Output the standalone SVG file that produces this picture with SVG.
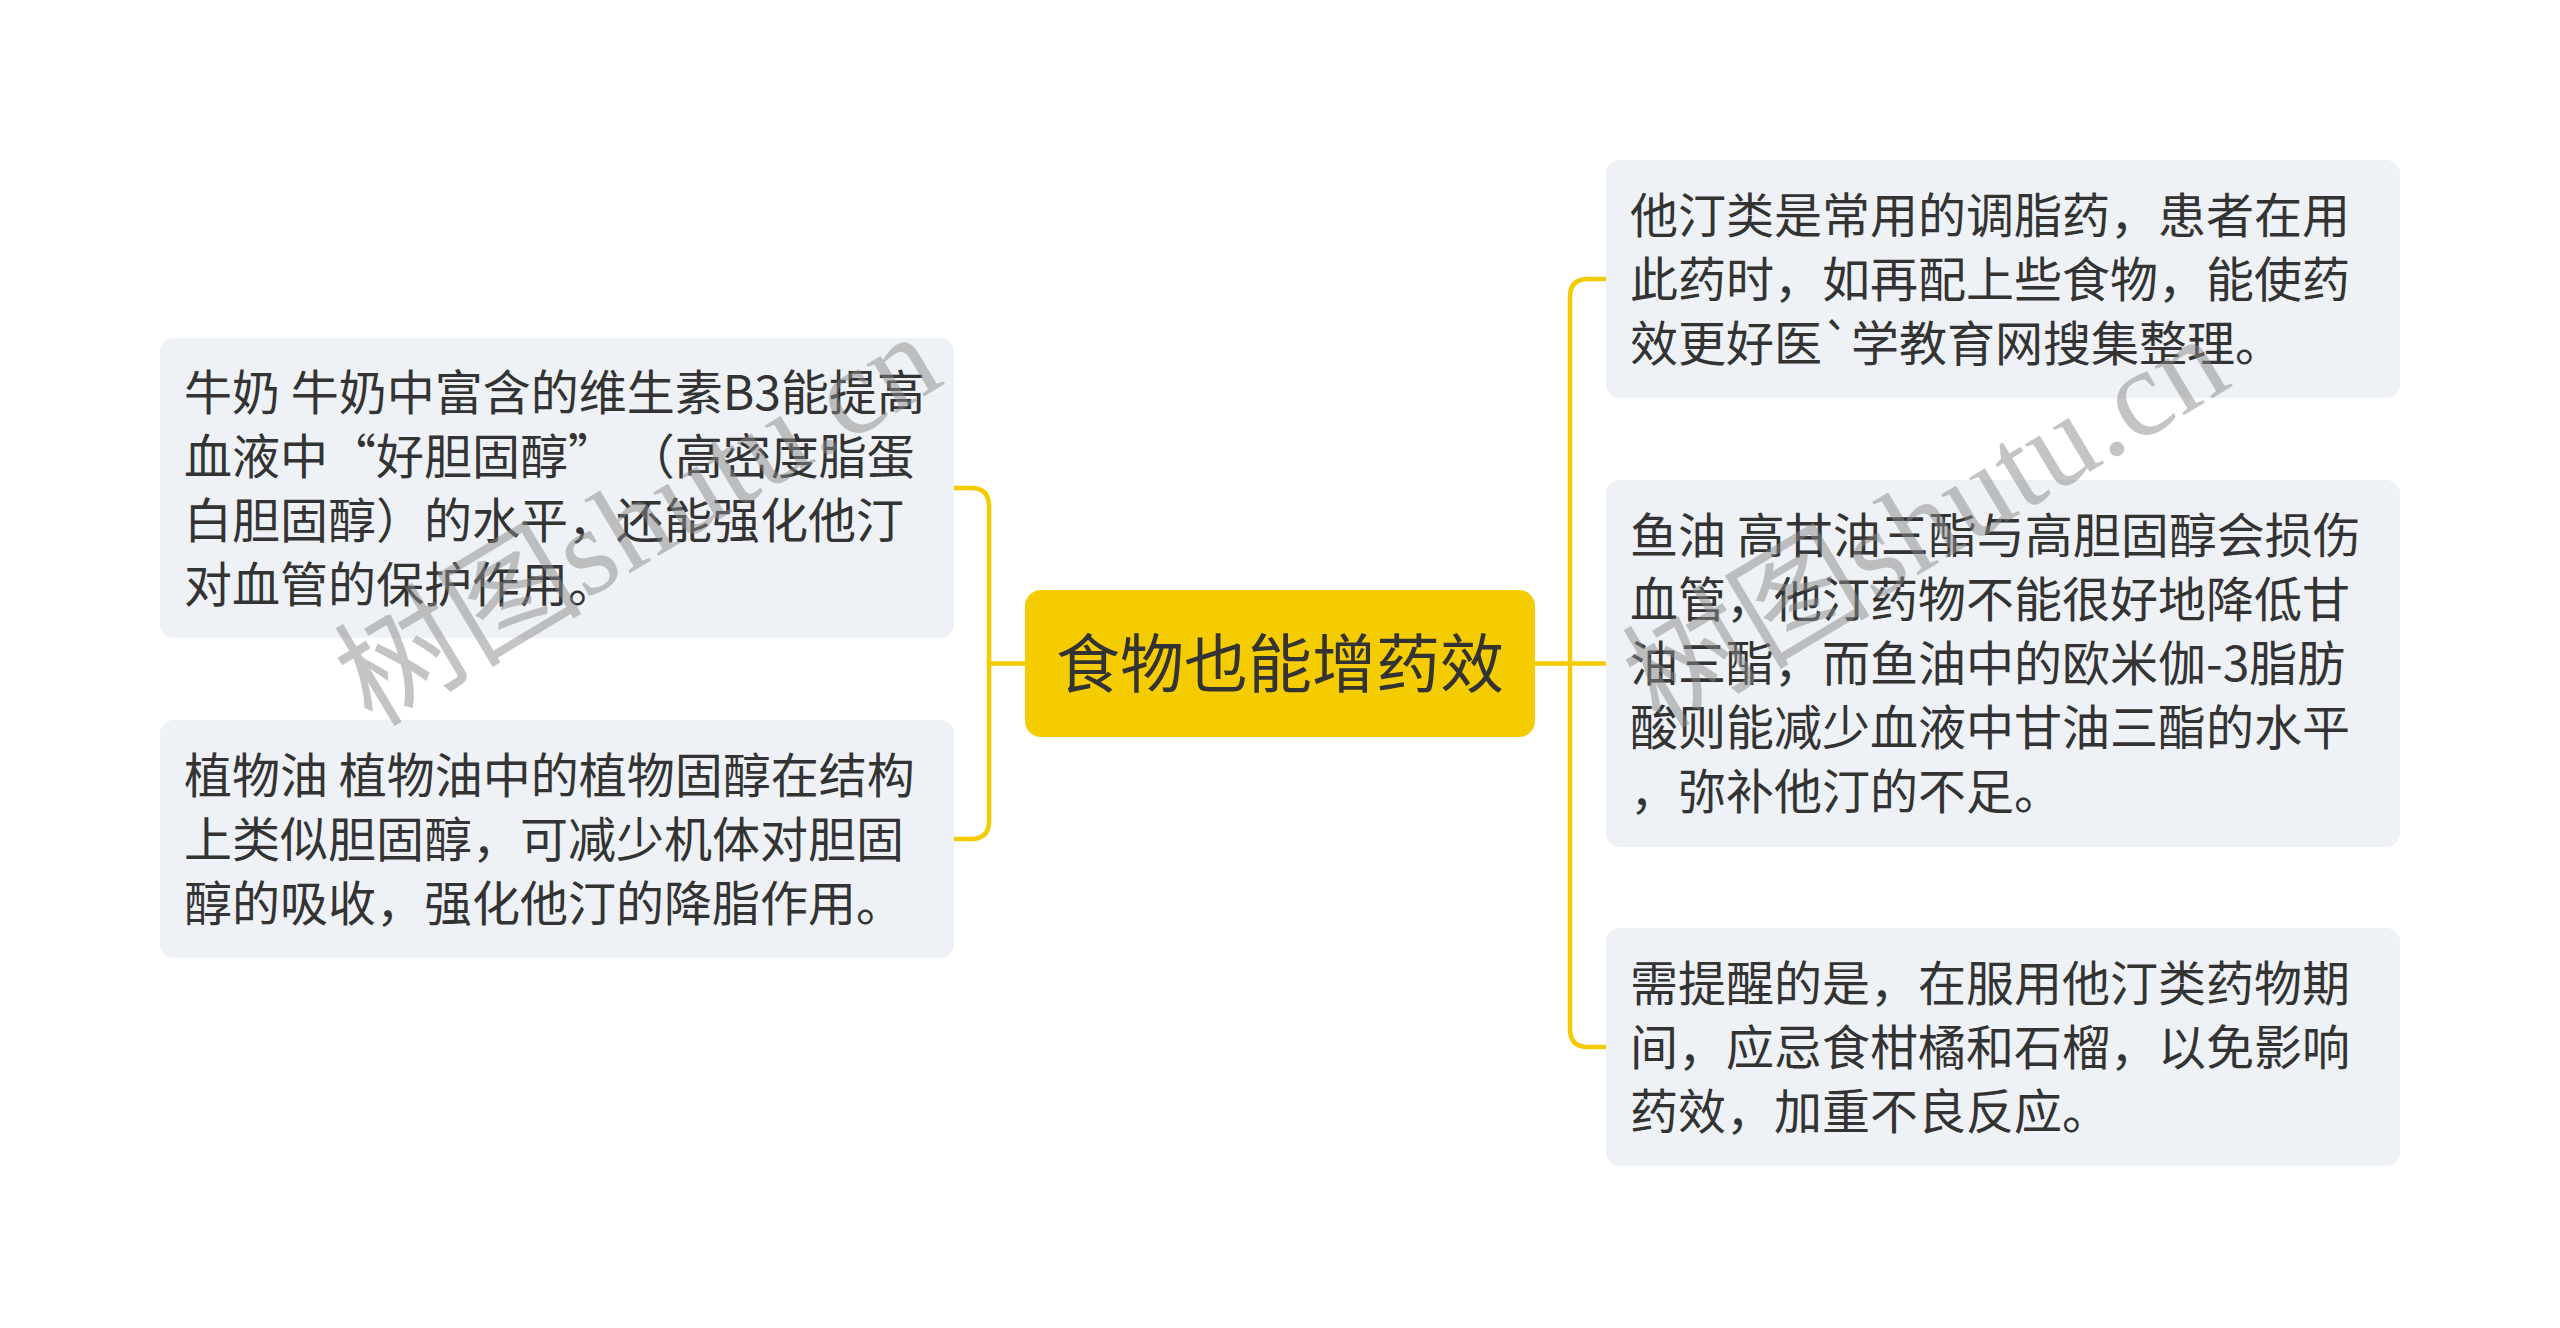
<svg xmlns="http://www.w3.org/2000/svg" width="2560" height="1328" viewBox="0 0 2560 1328">
<style>
.box{fill:#EEF1F5}
.txt{font-family:"Noto Sans CJK SC","Noto Sans",sans-serif;font-size:48px;fill:#333333}
.root{fill:#F5CC00}
.rtxt{font-family:"Noto Sans CJK SC","Noto Sans",sans-serif;font-size:64px;fill:#333333;text-anchor:middle}
.con{fill:none;stroke:#F5CA00;stroke-width:4.5;stroke-linecap:round;stroke-linejoin:round}
.wm{font-family:"Liberation Serif","Noto Sans CJK SC",serif;font-size:124px;fill:#8a8a8a;opacity:0.5}
</style>
<rect width="2560" height="1328" fill="#FFFFFF"/>
<g id="connectors">
<path class="con" d="M1025,663.5 H989"/>
<path class="con" d="M954,488 H971 Q989,488 989,506 V821 Q989,839 971,839 H954"/>
<path class="con" d="M1535,663.5 H1606"/>
<path class="con" d="M1606,279 H1588 Q1570,279 1570,297 V1029 Q1570,1047 1588,1047 H1606"/>
</g>
<g id="root">
<rect class="root" x="1025" y="590" width="510" height="147" rx="16"/>
<text class="rtxt" x="1280" y="687">食物也能增药效</text>
</g>
<g id="node-milk">
<rect class="box" x="160" y="338" width="794" height="300" rx="14"/>
<text class="txt"><tspan x="184" y="410">牛奶 牛奶中富含的维生素B3能提高</tspan><tspan x="184" y="474">血液中“好胆固醇” （高密度脂蛋</tspan><tspan x="184" y="538">白胆固醇）的水平，还能强化他汀</tspan><tspan x="184" y="602">对血管的保护作用。</tspan></text>
</g>
<g id="node-oil">
<rect class="box" x="160" y="720" width="794" height="238" rx="14"/>
<text class="txt"><tspan x="184" y="793">植物油 植物油中的植物固醇在结构</tspan><tspan x="184" y="857">上类似胆固醇，可减少机体对胆固</tspan><tspan x="184" y="921">醇的吸收，强化他汀的降脂作用。</tspan></text>
</g>
<g id="node-statin">
<rect class="box" x="1606" y="160" width="794" height="238" rx="14"/>
<text class="txt"><tspan x="1630" y="233">他汀类是常用的调脂药，患者在用</tspan><tspan x="1630" y="297">此药时，如再配上些食物，能使药</tspan><tspan x="1630" y="361">效更好医`学教育网搜集整理。</tspan></text>
</g>
<g id="node-fish">
<rect class="box" x="1606" y="480" width="794" height="367" rx="14"/>
<text class="txt"><tspan x="1630" y="553">鱼油 高甘油三酯与高胆固醇会损伤</tspan><tspan x="1630" y="617">血管，他汀药物不能很好地降低甘</tspan><tspan x="1630" y="681">油三酯，而鱼油中的欧米伽-3脂肪</tspan><tspan x="1630" y="745">酸则能减少血液中甘油三酯的水平</tspan><tspan x="1630" y="809">，弥补他汀的不足。</tspan></text>
</g>
<g id="node-warn">
<rect class="box" x="1606" y="928" width="794" height="238" rx="14"/>
<text class="txt"><tspan x="1630" y="1001">需提醒的是，在服用他汀类药物期</tspan><tspan x="1630" y="1065">间，应忌食柑橘和石榴，以免影响</tspan><tspan x="1630" y="1129">药效，加重不良反应。</tspan></text>
</g>
<g id="watermarks">
<text class="wm" x="372" y="728" transform="rotate(-31 372 728)" textLength="670" lengthAdjust="spacing">树图shutu.cn</text>
<text class="wm" x="1660" y="730" transform="rotate(-31 1660 730)" textLength="670" lengthAdjust="spacing">树图shutu.cn</text>
</g>
</svg>
